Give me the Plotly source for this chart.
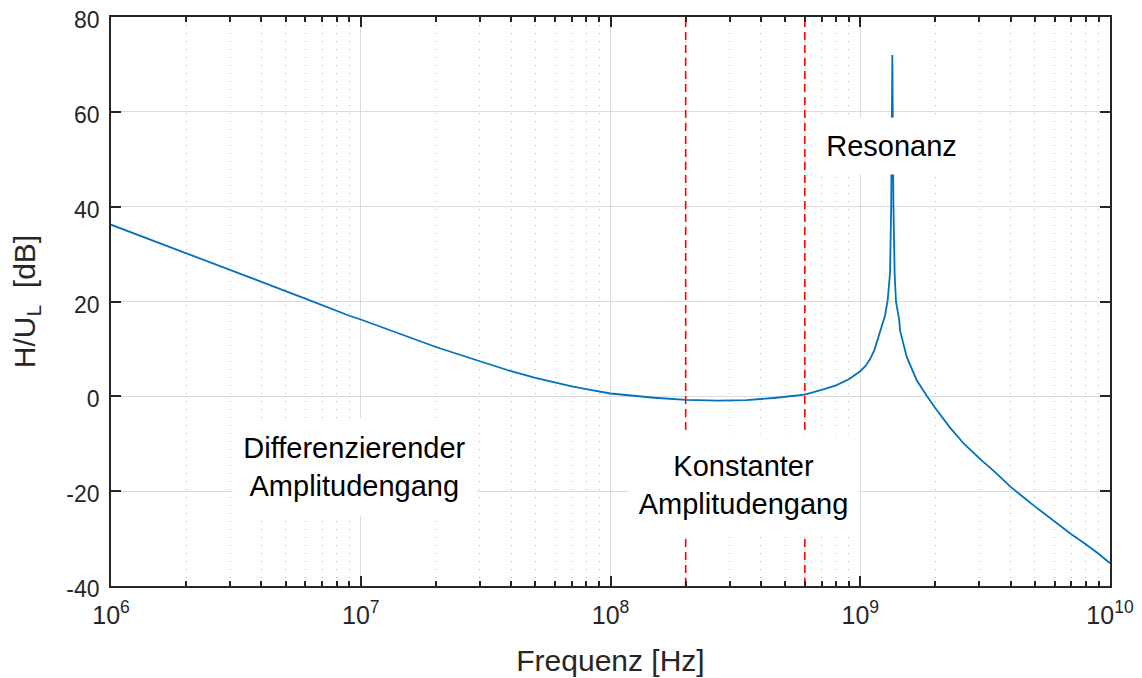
import math
import plotly.graph_objects as go

# Frequency response
freq_hz = [1e6, 2e6, 3e6, 4e6, 5e6, 6e6, 7e6, 8e6, 9e6,
           1e7, 1.4e7, 2e7, 3e7, 4e7, 5e7, 6e7, 7e7, 8e7, 9e7,
           1e8, 1.5e8, 2e8, 2.7e8, 3.5e8, 4.5e8, 6e8, 7e8, 8e8, 9e8,
           1e9, 1.05e9, 1.094e9, 1.14e9, 1.181e9, 1.256e9, 1.288e9, 1.316e9, 1.33e9, 1.344e9,
           1.358e9, 1.373e9, 1.39e9, 1.433e9, 1.443e9, 1.49e9, 1.535e9, 1.683e9, 1.76e9,
           1.846e9, 2e9, 2.288e9, 2.6e9, 3e9, 3.5e9, 4e9, 5e9, 6e9, 7e9, 8e9, 9e9, 1e10]
gain_db = [36.2, 30.2, 26.7, 24.3, 22.2, 20.6, 19.2, 18.0, 17.0,
           16.2, 13.4, 10.4, 7.4, 5.3, 3.9, 2.9, 2.1, 1.5, 1.0,
           0.6, -0.3, -0.75, -0.9, -0.8, -0.35, 0.35, 1.35, 2.3, 3.6,
           5.3, 6.4, 7.8, 9.8, 12.5, 17.0, 20.3, 26.0, 40.0, 72.0,
           40.0, 26.0, 20.0, 16.0, 13.9, 10.8, 8.3, 3.4, 1.7,
           0.1, -2.5, -6.6, -10.0, -13.1, -16.2, -19.1, -23.2, -26.5, -29.1, -31.2, -33.2, -35.2]

# Region boundaries (red dashed lines)
boundary_hz = [2e8, 6e8]
y_span = [-40, 80]

x_major = [1e6, 1e7, 1e8, 1e9, 1e10]
x_major_text = ["10<sup>6</sup>", "10<sup>7</sup>", "10<sup>8</sup>", "10<sup>9</sup>", "10<sup>10</sup>"]
x_minor = [k * d for d in [1e6, 1e7, 1e8, 1e9] for k in range(2, 10)]
y_ticks = [-40, -20, 0, 20, 40, 60, 80]
y_tick_text = ["-40", "-20", "0", "20", "40", "60", "80"]

# Annotations: (text, frequency, dB, box width, box height)
labels = [
    ("Differenzierender<br>Amplitudengang", 9.44e6, -14.8, 243, 96),
    ("Konstanter<br>Amplitudengang", 3.42e8, -18.6, 229, 102),
    ("Resonanz", 1.334e9, 52.7, 169, 56),
]

FONT = "Liberation Sans, Arial, Helvetica, sans-serif"
AXC = "#262626"

fig = go.Figure()
for xb in boundary_hz:
    fig.add_trace(go.Scatter(x=[xb, xb], y=y_span, mode="lines",
                             line=dict(color="#FF0000", width=1.6, dash="8px,5px"),
                             hoverinfo="skip", showlegend=False))
fig.add_trace(go.Scatter(x=freq_hz, y=gain_db, mode="lines",
                         line=dict(color="#0072BD", width=1.8),
                         showlegend=False))

for text, ax, ay, w, h in labels:
    fig.add_annotation(x=math.log10(ax), y=ay, xref="x", yref="y", text=text, showarrow=False,
                       font=dict(family=FONT, size=29, color="black"),
                       bgcolor="white", width=w, height=h, borderpad=0,
                       align="center", valign="middle")

# the page body adds an 8px offset, so margins are reduced accordingly
fig.update_layout(
    width=1142, height=678,
    margin=dict(l=103, r=40, t=9, b=100, autoexpand=False),
    paper_bgcolor="white", plot_bgcolor="white",
    font=dict(family=FONT, color=AXC),
)
fig.update_xaxes(
    type="log", range=[6, 10], automargin=False,
    tickmode="array", tickvals=x_major, ticktext=x_major_text,
    ticks="inside", ticklen=10, tickwidth=1.5, tickcolor=AXC,
    showline=True, linecolor=AXC, linewidth=1.8, mirror="allticks",
    showgrid=True, gridcolor="#dcdcdc", gridwidth=1,
    tickfont=dict(family=FONT, size=25, color=AXC), ticklabelstandoff=6,
    ticklabeloverflow="allow",
    minor=dict(tickvals=x_minor, ticks="inside", ticklen=5, tickcolor=AXC, tickwidth=1.5,
               showgrid=True, gridcolor="#b0b0b0", gridwidth=1, griddash="1px,7px"),
    title=dict(text="Frequenz [Hz]", font=dict(family=FONT, size=30, color=AXC), standoff=22),
    zeroline=False,
)
fig.update_yaxes(
    range=[-40, 80], automargin=False, tickmode="array", tickvals=y_ticks, ticktext=y_tick_text,
    ticks="inside", ticklen=10, tickwidth=1.5, tickcolor=AXC,
    showline=True, linecolor=AXC, linewidth=1.8, mirror="allticks",
    showgrid=True, gridcolor="#dcdcdc", gridwidth=1,
    tickfont=dict(family=FONT, size=23, color=AXC), ticklabelstandoff=5,
    ticklabelshift=3, ticklabeloverflow="allow",
    title=dict(text="H/U<sub>L</sub>  [dB]", font=dict(family=FONT, size=30, color=AXC), standoff=24),
    zeroline=False,
)

fig.write_html("out.html")
